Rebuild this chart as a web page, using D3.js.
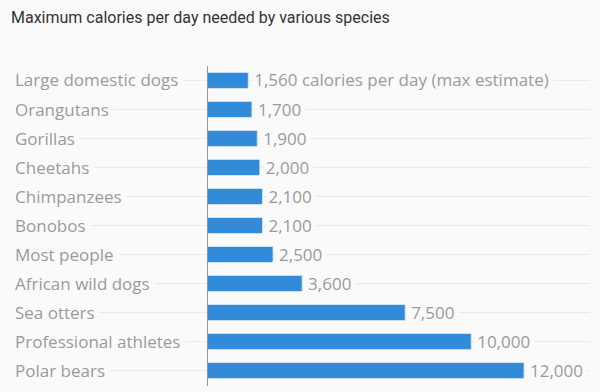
<!DOCTYPE html>
<html><head><meta charset="utf-8">
<script src="https://cdn.jsdelivr.net/npm/d3@7"></script>
<style>
html,body{margin:0;padding:0;background:#fafafa;}
svg{display:block;}
</style></head>
<body>
<svg id="c" width="600" height="392"></svg>
<script>
const categories = ["Large domestic dogs","Orangutans","Gorillas","Cheetahs","Chimpanzees","Bonobos","Most people","African wild dogs","Sea otters","Professional athletes","Polar bears"];
const values = [1560,1700,1900,2000,2100,2100,2500,3600,7500,10000,12000];
const valueLabels = ["1,560 calories per day (max estimate)","1,700","1,900","2,000","2,100","2,100","2,500","3,600","7,500","10,000","12,000"];
const title = "Maximum calories per day needed by various species";

const svg = d3.select("#c");
const font = "'Open Sans', 'Lato', sans-serif";
svg.append("rect").attr("width",600).attr("height",392).attr("fill","#fafafa");

svg.append("text").attr("x",11).attr("y",23).attr("font-family","Roboto, sans-serif")
  .attr("font-size",16).attr("fill","#333").text(title);

const x = d3.scaleLinear().domain([0,12000]).range([207,524]);
const y = d3.scaleBand().domain(categories).range([66,385]).paddingInner(0.45).paddingOuter(0.22);

const g = svg.append("g");
// gridlines
g.selectAll("line.grid").data(categories).join("line")
  .attr("x1",10).attr("x2",590)
  .attr("y1",d=>y(d)+y.bandwidth()/2).attr("y2",d=>y(d)+y.bandwidth()/2)
  .attr("stroke","#e8e8e8").attr("stroke-width",1);

// category labels
g.selectAll("text.cat").data(categories).join("text")
  .attr("x",15).attr("y",d=>y(d)+y.bandwidth()/2).attr("dy","0.36em")
  .attr("font-family",font).attr("font-size",17).attr("fill","#9a9a9a")
  .attr("stroke","#fafafa").attr("stroke-width",12).attr("paint-order","stroke")
  .text(d=>d);

// bars
g.selectAll("rect.bar").data(values).join("rect")
  .attr("x",x(0)).attr("y",(d,i)=>y(categories[i]))
  .attr("width",d=>x(d)-x(0)).attr("height",y.bandwidth())
  .attr("fill","#318bd9").attr("stroke","#d6e6f4").attr("stroke-width",0.8);

// value labels
g.selectAll("text.val").data(values).join("text")
  .attr("x",d=>x(d)+6).attr("y",(d,i)=>y(categories[i])+y.bandwidth()/2).attr("dy","0.36em")
  .attr("font-family",font).attr("font-size",17).attr("fill","#9a9a9a")
  .attr("stroke","#fafafa").attr("stroke-width",10).attr("paint-order","stroke")
  .text((d,i)=>valueLabels[i]);

// axis line
svg.append("line").attr("x1",207.5).attr("x2",207.5).attr("y1",66).attr("y2",386)
  .attr("stroke","#999").attr("stroke-width",1);
</script>
</body></html>
